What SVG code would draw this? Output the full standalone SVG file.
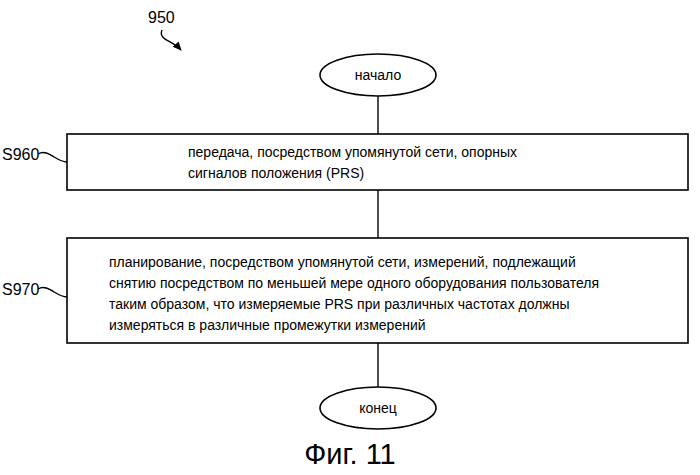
<svg xmlns="http://www.w3.org/2000/svg" width="700" height="475" viewBox="0 0 700 475">
<style>
.s{fill:#fff;stroke:#000;stroke-width:1.6}
.t{font-family:"Liberation Sans",Arial,sans-serif;font-size:14px;fill:#000}
.l{font-family:"Liberation Sans Narrow","Liberation Sans",sans-serif;font-size:16px;fill:#000}
.c{fill:none;stroke:#000;stroke-width:1.4}
</style>
<defs><marker id="a" markerWidth="10" markerHeight="10" refX="8" refY="5" orient="auto" markerUnits="userSpaceOnUse"><path d="M0,1 L9,5 L0,9 z"/></marker></defs>
<rect width="700" height="475" fill="#fff"/>
<g id="connectors">
<line class="c" x1="378" y1="96" x2="378" y2="134"/>
<line class="c" x1="378" y1="190" x2="378" y2="238"/>
<line class="c" x1="378" y1="343" x2="378" y2="387"/>
<path class="c" d="M162,30 C158,40 172,40 181,50" marker-end="url(#a)"/>
<path class="c" d="M38,154 C48,148 56,162 67,162"/>
<path class="c" d="M38,289 C48,283 56,297 67,297"/>
</g>
<text class="l" x="148" y="23">950</text>
<g id="start"><ellipse class="s" cx="378" cy="75" rx="58" ry="21"/><text class="t" x="378" y="80" text-anchor="middle">начало</text></g>
<g id="S960"><text class="l" x="2" y="160">S960</text><rect class="s" x="67" y="134" width="621" height="56"/>
<text class="t" x="188" y="157">передача, посредством упомянутой сети, опорных</text>
<text class="t" x="188" y="178">сигналов положения (PRS)</text></g>
<g id="S970"><text class="l" x="2" y="295">S970</text><rect class="s" x="67" y="238" width="621" height="105"/>
<text class="t" x="109" y="267">планирование, посредством упомянутой сети, измерений, подлежащий</text>
<text class="t" x="109" y="288">снятию посредством по меньшей мере одного оборудования пользователя</text>
<text class="t" x="109" y="309">таким образом, что измеряемые PRS при различных частотах должны</text>
<text class="t" x="109" y="330">измеряться в различные промежутки измерений</text></g>
<g id="end"><ellipse class="s" cx="378" cy="408" rx="58" ry="21"/><text class="t" x="378" y="413" text-anchor="middle">конец</text></g>
<text x="350" y="464" text-anchor="middle" style="font-family:'Liberation Sans',Arial,sans-serif;font-size:29px">Фиг. 11</text>
</svg>
